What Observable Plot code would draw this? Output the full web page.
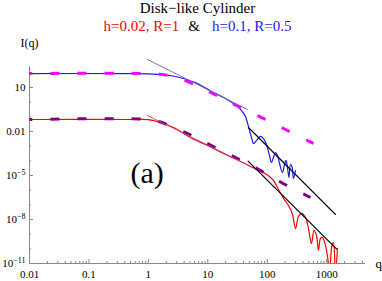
<!DOCTYPE html>
<html><head><meta charset="utf-8">
<script src="https://cdn.jsdelivr.net/npm/d3@7"></script>
<script src="https://cdn.jsdelivr.net/npm/@observablehq/plot@0.6"></script>
<style>
body{margin:0;background:#fff;}
#wrap{width:382px;height:281px;position:relative;font-family:"Liberation Serif","Times New Roman",serif;overflow:hidden;background:#fff;}
.tl{position:absolute;left:13px;width:369px;text-align:center;font-size:15px;line-height:18px;white-space:nowrap;z-index:2;}
#t1{top:-1px;}
#t2{top:17px;}
#chart{position:absolute;left:0;top:28px;z-index:1;}
</style></head><body>
<div id="wrap">
<div id="t1" class="tl">Disk−like Cylinder</div>
<div id="t2" class="tl"><span style="color:#ff0000">h=0.02, R=1</span><span style="margin:0 12px 0 9px">&amp;</span><span style="color:#1a1aff">h=0.1, R=0.5</span></div>
<div id="chart"></div>
</div>
<script>
// Series: [q, I(q)]
const blueCurve = [[0.01,89],[0.5,89],[1,86],[1.8,74],[2.86,56],[3.9,41],[6.7,18.7],[11.1,5.8],[18.4,2.08],[27,0.81],[35.5,0.32],[43,0.105],[48.3,0.022],[54.3,0.0039],[58.7,0.0015],[65.9,0.0024],[76.9,0.0046],[86.4,0.0033],[97,0.0013],[109,0.00023],[118,7.7e-5],[127,1.7e-4],[138,3.7e-4],[149,2.3e-4],[161,6.6e-5],[180,1.6e-5],[195,5.6e-5],[207,1.06e-4],[219,3.5e-5],[232,7.3e-6],[246,5.6e-5],[261,4.1e-5],[276,6.3e-6],[299,2.2e-5]];
const redCurve = [[0.01,0.066],[0.5,0.066],[1,0.064],[1.6,0.041],[2.65,0.0187],[5.1,0.0039],[9.9,0.00111],[18.4,3.2e-4],[35.5,9.1e-5],[58.7,3.3e-5],[77,2.0e-5],[101,1.08e-5],[127,4.6e-6],[155,1.1e-6],[188,2.7e-7],[228,9.1e-8],[266,2.2e-8],[299,2.4e-9],[335,1.6e-8],[377,2.6e-8],[440,1.4e-8],[494,2.4e-9],[555,2.3e-10],[611,1.8e-9],[673,8.1e-10],[728,7.8e-11],[787,5.1e-10],[851,5.9e-10],[955,1.7e-10],[1033,3.0e-11],[1115,3e-12],[1227,1.7e-10],[1300,2.7e-10],[1406,3e-12],[1518,1.07e-10]];
const magentaDash = [[0.01,89],[1.09,88],[1.94,71],[3.21,44.5],[5.5,18.7],[9.9,5.8],[17.7,1.78],[31.6,0.55],[68.5,0.123],[188,0.016],[494,0.00225],[600,0.00152]];
const purpleDash = [[0.01,0.066],[0.966,0.066],[1.6,0.0445],[2.36,0.0238],[4.2,0.00855],[7.5,0.00264],[16.2,5.5e-4],[35.5,1.15e-4],[77,2.2e-5],[167,3.6e-6],[440,4.7e-7],[535,3.2e-7]];
const slateAsymptote = [[0.966,811],[46.4,0.316]];
const roseAsymptote = [[0.966,0.123],[46.4,5.4e-5]];
const blackBlue = [[48.3,0.0188],[1406,2.2e-8]];
const blackRed = [[47.6,9.5e-5],[1462,1.0e-10]];
const panelLabel = [{q:0.95, I:1.3e-5, label:"(a)"}];

const xTicks = [0.01,0.1,1,10,100,1000];
const xTickLabels = ["0.01","0.1","1","10","100","1000"];
const yTicks = [10,1e-2,1e-5,1e-8,1e-11];
const yTickLabels = ["10","0.01","10^−5","10^−8","10^−11"];
const xMinor = [];
for (let e = -2; e <= 3; e++) for (let m = 2; m <= 9; m++) { const v = m * Math.pow(10, e); if (v < 4500) xMinor.push(v); }
const yMinor = [];
for (let e = -10; e <= 2; e++) { const v = Math.pow(10, e); if (![1,-2,-5,-8].includes(e)) yMinor.push(v); }

const X = d => d[0], Y = d => d[1];
const axisGray = "#888";
const serif = "'Liberation Serif','Times New Roman',serif";

const svg = Plot.plot({
  width: 382, height: 253,
  marginTop: 38, marginBottom: 18, marginLeft: 29, marginRight: 17,
  x: {type: "log", domain: [0.01, 4500]},
  y: {type: "log", domain: [1e-11, 270]},
  style: {fontFamily: serif, fontSize: "11px", color: "black", background: "transparent", overflow: "visible"},
  marks: [
    Plot.ruleX([0.01], {stroke: axisGray}),
    Plot.ruleY([1e-11], {stroke: axisGray}),
    Plot.axisX({ticks: xTicks, tickFormat: d => xTickLabels[xTicks.indexOf(d)], tickSize: 0, tickPadding: 7, label: null}),
    Plot.axisX({ticks: xTicks, tickFormat: () => "", tickSize: 4, dy: -4, stroke: axisGray, label: null}),
    Plot.axisX({ticks: xMinor, tickFormat: () => "", tickSize: 2, dy: -2, stroke: axisGray, label: null}),
    Plot.axisY({ticks: yTicks, tickFormat: d => yTickLabels[yTicks.indexOf(d)], tickSize: 0, tickPadding: 4, label: null}),
    Plot.axisY({ticks: yTicks, tickFormat: () => "", tickSize: 4, dx: 4, stroke: axisGray, label: null}),
    Plot.axisY({ticks: yMinor, tickFormat: () => "", tickSize: 2, dx: 2, stroke: axisGray, label: null}),
    Plot.line(blueCurve, {x: X, y: Y, stroke: "#1a1aff", strokeWidth: 1.2, curve: "catmull-rom"}),
    Plot.line(redCurve, {x: X, y: Y, stroke: "#ff0000", strokeWidth: 1.2, curve: "catmull-rom", clip: true}),
    Plot.line(magentaDash, {x: X, y: Y, stroke: "#ff00ff", strokeWidth: 3, strokeLinecap: "butt", strokeDasharray: "9,18", strokeDashoffset: 6, curve: "catmull-rom"}),
    Plot.line(purpleDash, {x: X, y: Y, stroke: "#800080", strokeWidth: 3, strokeLinecap: "butt", strokeDasharray: "9,18", strokeDashoffset: 6, curve: "catmull-rom"}),
    Plot.line(slateAsymptote, {x: X, y: Y, stroke: "#6a6ab8", strokeWidth: 0.9}),
    Plot.line(roseAsymptote, {x: X, y: Y, stroke: "#b0508a", strokeWidth: 0.9}),
    Plot.line(blackBlue, {x: X, y: Y, stroke: "black", strokeWidth: 1.2}),
    Plot.line(blackRed, {x: X, y: Y, stroke: "black", strokeWidth: 1.2}),
    Plot.text(panelLabel, {x: "q", y: "I", text: "label", fontSize: 30, fill: "black"}),
    Plot.text(["I(q)"], {frameAnchor: "top-left", text: d => d, textAnchor: "middle", lineAnchor: "bottom", dy: -20, fontSize: 12, fill: "black"}),
    Plot.text(["q"], {frameAnchor: "bottom-right", text: d => d, textAnchor: "start", lineAnchor: "bottom", dx: 10, dy: 4, fontSize: 13, fill: "black"})
  ]
});

// superscript exponents on the y tick labels
svg.querySelectorAll("text").forEach(t => {
  const s = t.textContent;
  const m = s.match(/^10\^(.+)$/);
  if (m) {
    t.textContent = "10";
    const ts = document.createElementNS("http://www.w3.org/2000/svg", "tspan");
    ts.setAttribute("dy", "-0.45em");
    ts.setAttribute("font-size", "8px");
    ts.textContent = m[1];
    t.appendChild(ts);
  }
});
document.getElementById("chart").appendChild(svg);
</script>
</body></html>
